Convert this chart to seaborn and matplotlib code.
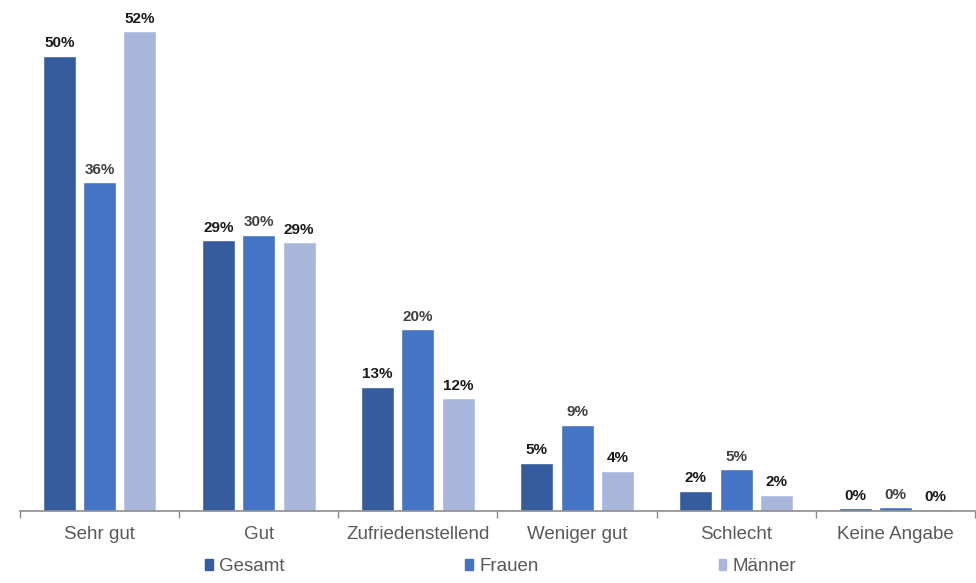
import pandas as pd
import matplotlib.pyplot as plt
import seaborn as sns
from matplotlib.ticker import FixedLocator

categories = ["Sehr gut", "Gut", "Zufriedenstellend", "Weniger gut", "Schlecht", "Keine Angabe"]
groups = ["Gesamt", "Frauen", "Männer"]
gesamt = [50.1, 29.8, 13.7, 5.3, 2.2, 0.3]
frauen = [36.2, 30.4, 20.0, 9.5, 4.6, 0.4]
maenner = [52.8, 29.6, 12.4, 4.4, 1.8, 0.2]
gesamt_labels = ["50%", "29%", "13%", "5%", "2%", "0%"]
frauen_labels = ["36%", "30%", "20%", "9%", "5%", "0%"]
maenner_labels = ["52%", "29%", "12%", "4%", "2%", "0%"]
colors = ["#355C9F", "#4573C5", "#A8B6DB"]
label_colors = ["#1a1a1a", "#404040", "#1a1a1a"]

df = pd.concat([
    pd.DataFrame({"Kategorie": categories, "Gruppe": g, "Wert": v})
    for g, v in zip(groups, [gesamt, frauen, maenner])
])

sns.set_style("white")
plt.rcParams["font.family"] = ["Liberation Sans", "DejaVu Sans"]

fig = plt.figure(figsize=(9.76, 5.83), dpi=100)
ax = fig.add_axes([20 / 976, 72 / 583, 955 / 976, 506 / 583])

sns.barplot(data=df, x="Kategorie", y="Wert", hue="Gruppe", palette=colors,
            width=0.76, gap=0.18, ax=ax, legend=False, saturation=1)

all_labels = [gesamt_labels, frauen_labels, maenner_labels]
for container, labels, lc in zip(ax.containers, all_labels, label_colors):
    ax.bar_label(container, labels=labels, padding=4, fontsize=11,
                 fontweight="bold", color=lc)

ax.set_ylim(0, 55.7)
ax.set_xlim(-0.5, 5.5)
ax.set_xlabel("")
ax.set_ylabel("")
ax.set_yticks([])
for s in ["top", "right", "left"]:
    ax.spines[s].set_visible(False)
ax.spines["bottom"].set_color("#8c8c8c")
ax.spines["bottom"].set_linewidth(1.2)
ax.xaxis.set_minor_locator(FixedLocator([i - 0.5 for i in range(7)]))
ax.tick_params(axis="x", which="major", length=0, pad=11, labelsize=13.5, labelcolor="#595959")
ax.tick_params(axis="x", which="minor", length=5, width=1, color="#8c8c8c", bottom=True)

handles = [plt.Rectangle((0, 0), 1, 1, color=c) for c in colors]
fig.legend(handles, groups, loc="center", bbox_to_anchor=(0.513, 0.028), ncol=3,
           frameon=False, fontsize=13.5, handlelength=0.42, handleheight=0.45,
           handletextpad=0.35, columnspacing=9.6, labelcolor="#595959")

fig.savefig("out.png", dpi=100)
